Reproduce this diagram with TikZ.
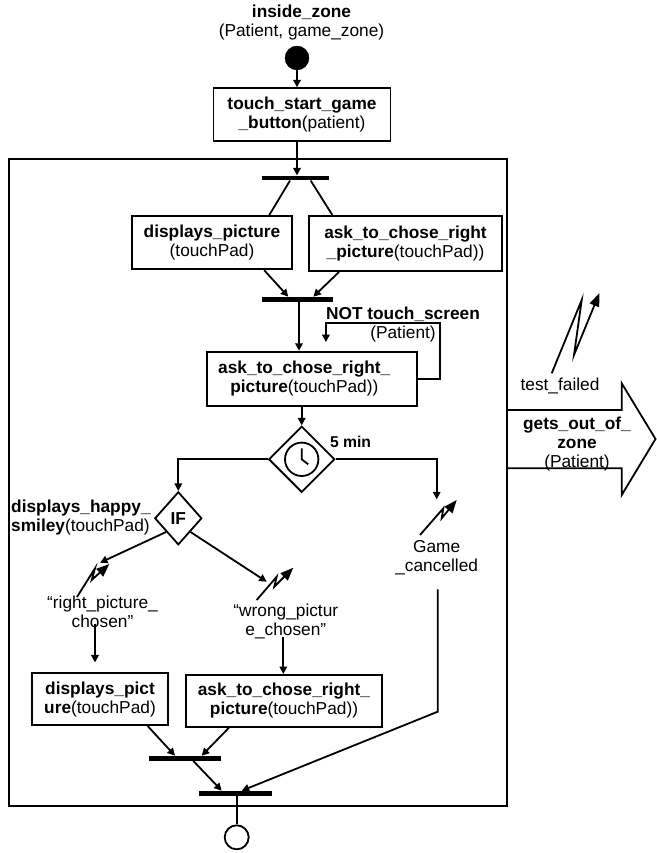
\documentclass[tikz,border=0pt]{standalone}
\usepackage{fontspec}
\setmainfont{Liberation Sans}
\usetikzlibrary{arrows.meta,shapes.geometric}
\newcommand{\fs}{\fontsize{17.3pt}{19pt}\selectfont}
\tikzstyle{actbox}=[draw=black,line width=1.8pt,align=center,
                    inner sep=0pt,font=\fs]
\tikzstyle{syncbar}=[fill=black,inner sep=0pt,minimum height=4.8pt]
\tikzstyle{decision}=[diamond,draw=black,line width=1.8pt,aspect=1,
                      inner sep=0pt,font=\fs]
\tikzstyle{startdot}=[circle,draw=black,fill=black,
                      inner sep=0pt,minimum size=24pt]
\tikzstyle{enddot}=[circle,draw=black,fill=white,line width=1.8pt,
                    inner sep=0pt,minimum size=24pt]
\tikzstyle{lbl}=[align=center,inner sep=0pt,font=\fs]
\tikzstyle{link}=[line width=1.8pt]
\tikzstyle{flow}=[line width=1.8pt,-{Triangle[length=7.5pt,width=7.5pt]}]
\tikzstyle{sig}=[line width=1.8pt,-{Triangle[length=13pt,width=10pt]}]

\begin{document}
\begin{tikzpicture}[x=1pt,y=-1pt]
    \useasboundingbox (0,0) rectangle (656,853);
    \draw [line width=1.6pt] (9,159) rectangle (507,806);
    \node (zone) at (301.5,23) [lbl] {\textbf{inside\_zone}\\(Patient, game\_zone)};
    \node (ini) at (297,58) [startdot] {};
    \node (start) at (302,114.7) [actbox,minimum width=177pt,minimum height=53pt]
        {\textbf{touch\_start\_game}\\\textbf{\_button}(patient)};
    \node (fork) at (295.5,178) [syncbar,minimum width=67.6pt] {};
    \node (disp) at (212,242.7) [actbox,minimum width=160.6pt,minimum height=53.3pt]
        {\textbf{displays\_picture}\\(touchPad)};
    \node (askA) at (405.5,243.5) [actbox,minimum width=192.4pt,minimum height=55pt]
        {\textbf{ask\_to\_chose\_right}\\\textbf{\_picture}(touchPad))};
    \node (joinA) at (297.5,299.3) [syncbar,minimum width=71.6pt] {};
    \node (askB) at (312.3,378.8) [actbox,minimum width=210pt,minimum height=54.3pt]
        {\textbf{ask\_to\_chose\_right\_}\hspace*{16pt}\\\textbf{picture}(touchPad))\hspace*{16pt}};
    \node (notlbl) at (403,324.5) [lbl] {\textbf{NOT touch\_screen}\\(Patient)};
    \node (clock) at (301.7,459.3) [decision,minimum size=66pt] {};
    \node (tmin) at (350.5,442) [lbl,font=\fontsize{15.7pt}{17pt}\selectfont\bfseries] {5 min};
    \node (ifd) at (178.3,518.3) [decision,minimum width=47pt,minimum height=53pt] {\textbf{IF}};
    \node (smiley) at (11,517.5) [lbl,anchor=west,align=left]
        {\textbf{displays\_happy\_}\\\textbf{smiley}(touchPad)};
    \node (rlbl) at (102.5,612) [lbl] {“right\_picture\_\\chosen”};
    \node (wlbl) at (285.8,621) [lbl] {“wrong\_pictur\\e\_chosen”};
    \node (gclbl) at (436.7,558) [lbl] {Game\\\_cancelled};
    \node (tflbl) at (560,386) [lbl] {test\_failed};
    \node (outlbl) at (577,443.7) [lbl] {\textbf{gets\_out\_of\_}\\\textbf{zone}\\(Patient)};
    \node (dispB) at (100,699.2) [actbox,minimum width=136.6pt,minimum height=51.7pt]
        {\textbf{displays\_pict}\\\textbf{ure}(touchPad)};
    \node (askC) at (284,700.8) [actbox,minimum width=196.6pt,minimum height=51.7pt]
        {\textbf{ask\_to\_chose\_right\_}\\\textbf{picture}(touchPad))};
    \node (joinB) at (184.8,758.3) [syncbar,minimum width=71.7pt] {};
    \node (joinC) at (235.5,793.3) [syncbar,minimum width=72.4pt] {};
    \node (fin) at (236.7,837.3) [enddot] {};
    \coordinate (rin) at (100,562.7);
    \coordinate (win) at (266.7,581.7);
    \coordinate (gin) at (436.7,499.3);
    \coordinate (gbend) at (437.7,711.7);
    \draw [link] (clock.center) circle (16.7pt);
    \draw [link] ([yshift=11pt]clock.center) -- (clock.center) -- ([xshift=6.5pt,yshift=-5pt]clock.center);
    \draw [sig] (77,597) -- (95,568.3) -- (91.7,580) -- (109.3,564);
    \draw [sig] (256.7,600) -- (276.7,576.7) -- (274.3,586.7) -- (293.3,567.7);
    \draw [sig] (420,535) -- (443.3,508.3) -- (441.7,518.3) -- (456.7,500);
    \draw [sig] (551.7,373.3) -- (581.7,300) -- (574,355) -- (599.3,293.3);
    \draw [link] (507,410) -- (621.7,410) -- (621.7,383.3) -- (655.5,439)
        -- (621.7,495) -- (621.7,468.3) -- (507,468.3);
    \draw [flow] (ini) -- (start.north -| ini);
    \draw [flow] (start.south -| ini) -- (fork.north -| ini);
    \draw [link] ([xshift=-5.5pt]fork.south) -- ([xshift=-24pt]disp.north east);
    \draw [link] ([xshift=15.2pt]fork.south) -- ([xshift=24pt]askA.north west);
    \draw [flow] ([xshift=-29pt]disp.south east) -- ([xshift=-9.2pt]joinA.north);
    \draw [flow] ([xshift=30.7pt]askA.south west) -- ([xshift=15.8pt]joinA.north);
    \draw [flow] ([xshift=1.5pt]joinA.south) -- ([xshift=1.5pt]joinA.south |- askB.north);
    \draw [flow] (askB.east) -- ++(22,0) -- ++(0,-55.7) -- ++(-114.3,0) -- ++(0,19);
    \draw [flow] (clock.north |- askB.south) -- (clock.north);
    \draw [flow] (clock.west) -| (ifd.north);
    \draw [flow] (clock.east) -| (gin);
    \draw [flow] (ifd.south west) -- (rin);
    \draw [flow] (ifd.south east) -- (win);
    \draw [flow] ([xshift=-7.5pt,yshift=4.5pt]rlbl.south) -- ([xshift=-5pt,yshift=10pt]dispB.north);
    \draw [flow] ([xshift=-2.5pt,yshift=2pt]wlbl.south) -- ([xshift=-0.7pt]askC.north);
    \draw [flow] ([xshift=-21.6pt]dispB.south east) -- ([xshift=-9.8pt]joinB.north);
    \draw [flow] ([xshift=44.3pt]askC.south west) -- ([xshift=16.9pt]joinB.north);
    \draw [flow] ([xshift=8.5pt]joinB.south) -- ([xshift=-13.8pt]joinC.north);
    \draw [flow] ([xshift=1pt,yshift=-14pt]gclbl.south) -- (gbend) -- ([xshift=6.2pt]joinC.north);
    \draw [link] (joinC.south -| fin) -- (fin);
\end{tikzpicture}
\end{document}
